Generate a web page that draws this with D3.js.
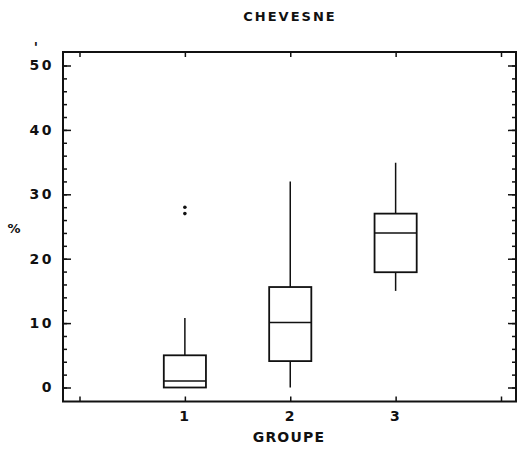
<!DOCTYPE html>
<html>
<head>
<meta charset="utf-8">
<script src="https://cdn.jsdelivr.net/npm/d3@7"></script>
<style>
  body { margin: 0; background: #fff; }
  text { font-family: "DejaVu Sans", sans-serif; font-weight: bold; fill: #111; }
</style>
</head>
<body>
<div id="chart"></div>
<script>
// box plot values (percent)
var groups = ["1", "2", "3"];
var whiskerLow = [0, 0, 15];
var q1 = [0, 4.1, 17.9];
var median = [1, 10.1, 24];
var q3 = [5, 15.6, 27];
var whiskerHigh = [10.8, 32, 34.9];
var outliers = [[27, 28], [], []];
var yTicks = [0, 10, 20, 30, 40, 50];

var width = 517, height = 449;
var frame = { left: 63, right: 516, top: 52, bottom: 401.5 };

var svg = d3.select("#chart").append("svg")
  .attr("width", width)
  .attr("height", height);

var x = d3.scaleLinear().domain([0, 4]).range([79.5, 501]);
var y = d3.scaleLinear().domain([0, 50]).range([387.5, 65.5]);

var ink = "#111";

// left axis, ticks pointing inward
svg.append("g")
  .attr("transform", "translate(" + frame.left + ",0)")
  .call(d3.axisLeft(y).tickValues(yTicks).tickSize(-8).tickPadding(9)
    .tickFormat(d3.format("d")));
svg.append("g")
  .attr("transform", "translate(" + frame.left + ",0)")
  .call(d3.axisLeft(y).tickValues(d3.range(0, 52, 2)).tickSize(-4).tickFormat(""));

// right axis (ticks only)
svg.append("g")
  .attr("transform", "translate(" + frame.right + ",0)")
  .call(d3.axisRight(y).tickValues(yTicks).tickSize(-8).tickFormat(""));
svg.append("g")
  .attr("transform", "translate(" + frame.right + ",0)")
  .call(d3.axisRight(y).tickValues(d3.range(0, 52, 2)).tickSize(-4).tickFormat(""));

// bottom and top axes
svg.append("g")
  .attr("transform", "translate(0," + frame.bottom + ")")
  .call(d3.axisBottom(x).tickValues([0, 1, 2, 3, 4]).tickSize(-5).tickPadding(10)
    .tickFormat(function (d) { return d >= 1 && d <= 3 ? groups[d - 1] : ""; }));
svg.append("g")
  .attr("transform", "translate(0," + frame.top + ")")
  .call(d3.axisTop(x).tickValues([0, 1, 2, 3, 4]).tickSize(-5).tickFormat(""));

svg.selectAll(".domain").remove();
svg.selectAll(".tick line").attr("stroke", ink).attr("stroke-width", 1.5);
svg.selectAll(".tick text")
  .attr("font-size", 14)
  .attr("font-family", "DejaVu Sans Mono")
  .attr("font-weight", "bold")
  .attr("letter-spacing", 2.5)
  .attr("fill", ink);

// frame
svg.append("rect")
  .attr("x", frame.left)
  .attr("y", frame.top)
  .attr("width", frame.right - frame.left)
  .attr("height", frame.bottom - frame.top)
  .attr("fill", "none")
  .attr("stroke", ink)
  .attr("stroke-width", 2);

// boxes
var half = (x(0.2) - x(0));
var box = svg.selectAll(".box")
  .data(groups)
  .enter()
  .append("g")
  .attr("class", "box");

box.append("line")
  .attr("x1", function (d, i) { return x(i + 1); })
  .attr("x2", function (d, i) { return x(i + 1); })
  .attr("y1", function (d, i) { return y(whiskerHigh[i]); })
  .attr("y2", function (d, i) { return y(q3[i]); })
  .attr("stroke", ink).attr("stroke-width", 1.5);

box.append("line")
  .attr("x1", function (d, i) { return x(i + 1); })
  .attr("x2", function (d, i) { return x(i + 1); })
  .attr("y1", function (d, i) { return y(q1[i]); })
  .attr("y2", function (d, i) { return y(whiskerLow[i]); })
  .attr("stroke", ink).attr("stroke-width", 1.5);

box.append("rect")
  .attr("x", function (d, i) { return x(i + 1) - half; })
  .attr("y", function (d, i) { return y(q3[i]); })
  .attr("width", half * 2)
  .attr("height", function (d, i) { return y(q1[i]) - y(q3[i]); })
  .attr("fill", "none")
  .attr("stroke", ink).attr("stroke-width", 1.8);

box.append("line")
  .attr("x1", function (d, i) { return x(i + 1) - half; })
  .attr("x2", function (d, i) { return x(i + 1) + half; })
  .attr("y1", function (d, i) { return y(median[i]); })
  .attr("y2", function (d, i) { return y(median[i]); })
  .attr("stroke", ink).attr("stroke-width", 1.5);

box.selectAll(".out")
  .data(function (d, i) { return outliers[i].map(function (v) { return { g: i, v: v }; }); })
  .enter()
  .append("circle")
  .attr("class", "out")
  .attr("cx", function (d) { return x(d.g + 1); })
  .attr("cy", function (d) { return y(d.v); })
  .attr("r", 1.8)
  .attr("fill", ink);

// titles
svg.append("text")
  .attr("x", 290).attr("y", 21)
  .attr("text-anchor", "middle")
  .attr("font-size", 13)
  .attr("letter-spacing", 2)
  .text("CHEVESNE");

svg.append("text")
  .attr("x", 289).attr("y", 442)
  .attr("text-anchor", "middle")
  .attr("font-size", 14)
  .attr("letter-spacing", 1.2)
  .text("GROUPE");

svg.append("text")
  .attr("x", 14).attr("y", 233)
  .attr("text-anchor", "middle")
  .attr("font-size", 13)
  .text("%");

svg.append("text")
  .attr("x", 36).attr("y", 52)
  .attr("text-anchor", "middle")
  .attr("font-size", 14)
  .text("'");
</script>
</body>
</html>
